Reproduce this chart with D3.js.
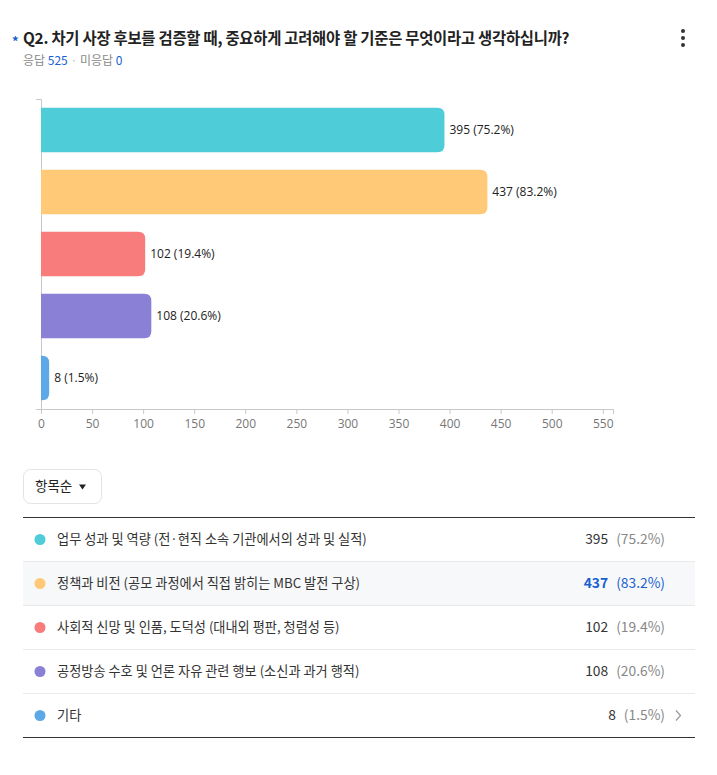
<!DOCTYPE html>
<html><head><meta charset="utf-8">
<script src="https://cdn.jsdelivr.net/npm/d3@7"></script>
<style>
html,body{margin:0;padding:0;background:#fff;}
svg{display:block;}
</style></head>
<body>
<svg id="c" width="717" height="775"></svg>
<script>
const categories = [
  "업무 성과 및 역량 (전·현직 소속 기관에서의 성과 및 실적)",
  "정책과 비전 (공모 과정에서 직접 밝히는 MBC 발전 구상)",
  "사회적 신망 및 인품, 도덕성 (대내외 평판, 청렴성 등)",
  "공정방송 수호 및 언론 자유 관련 행보 (소신과 과거 행적)",
  "기타"
];
const counts = [395, 437, 102, 108, 8];
const percents = ["75.2%", "83.2%", "19.4%", "20.6%", "1.5%"];
const colors = ["#4ECDD9", "#FFC978", "#F87C7C", "#8A80D6", "#5DA8E6"];
const xTicks = [0, 50, 100, 150, 200, 250, 300, 350, 400, 450, 500, 550];
const title = "Q2. 차기 사장 후보를 검증할 때, 중요하게 고려해야 할 기준은 무엇이라고 생각하십니까?";
const responded = 525, notResponded = 0;

const KR = "'Noto Sans CJK KR','Noto Sans',sans-serif";
const CH = "'Open Sans','Noto Sans CJK KR',sans-serif";
const svg = d3.select("#c");

// header
svg.append("text").attr("x", 12).attr("y", 46).attr("fill", "#1a5fd0")
  .attr("font-size", 13).attr("font-family", KR).attr("font-weight", 700).text("*");
svg.append("text").attr("x", 23).attr("y", 44).attr("fill", "#222")
  .attr("font-size", 15.4).attr("font-family", KR).attr("font-weight", 700)
  .attr("letter-spacing", -0.25).text(title);
const sub = svg.append("text").attr("x", 23).attr("y", 65)
  .attr("font-size", 12).attr("font-family", KR).attr("fill", "#8a8a8a");
sub.append("tspan").text("응답 ");
sub.append("tspan").attr("fill", "#1a5fd0").text(responded);
sub.append("tspan").attr("fill", "#c0c0c0").text("  ·  ");
sub.append("tspan").text("미응답 ");
sub.append("tspan").attr("fill", "#1a5fd0").text(notResponded);
[31, 38, 45].forEach(cy => svg.append("circle").attr("cx", 683).attr("cy", cy).attr("r", 2).attr("fill", "#333"));

// chart
const x = d3.scaleLinear().domain([0, 560]).range([41, 613]);
const y = d3.scaleBand().domain(d3.range(categories.length)).range([99, 409])
  .paddingInner(0.28).paddingOuter(0.14);

const xAxis = svg.append("g").attr("transform", "translate(0,409)")
  .call(d3.axisBottom(x).tickValues(xTicks).tickSize(5).tickSizeOuter(5));
xAxis.selectAll("path,line").attr("stroke", "#c8c8c8");
xAxis.selectAll("text").attr("fill", "#777").attr("font-size", 12)
  .attr("font-family", CH).attr("dy", "0.9em");

const yAxis = svg.append("g").attr("transform", "translate(41,0)")
  .call(d3.axisLeft(y).tickValues([]).tickSizeOuter(5));
yAxis.selectAll("path").attr("stroke", "#c8c8c8");

const r = 7;
svg.append("g").selectAll("path").data(counts).join("path")
  .attr("fill", (d, i) => colors[i])
  .attr("d", (d, i) => {
    const x0 = x(0), x1 = x(d), y0 = y(i), h = y.bandwidth();
    const rr = Math.min(r, (x1 - x0), h / 2);
    return `M${x0},${y0}H${x1 - rr}Q${x1},${y0} ${x1},${y0 + rr}V${y0 + h - rr}Q${x1},${y0 + h} ${x1 - rr},${y0 + h}H${x0}Z`;
  });
svg.append("g").selectAll("text").data(counts).join("text")
  .attr("x", d => x(d) + 5).attr("y", (d, i) => y(i) + y.bandwidth() / 2)
  .attr("dy", "0.35em").attr("font-size", 12).attr("font-family", CH).attr("fill", "#222")
  .text((d, i) => `${d} (${percents[i]})`);

// dropdown
svg.append("rect").attr("x", 23.5).attr("y", 469.5).attr("width", 78).attr("height", 34)
  .attr("rx", 7).attr("fill", "#fff").attr("stroke", "#e3e3e3");
svg.append("text").attr("x", 35).attr("y", 491).attr("font-size", 13.5).attr("font-family", KR)
  .attr("fill", "#222").text("항목순");
svg.append("path").attr("d", "M79,484.5h7l-3.5,5z").attr("fill", "#222");

// table
const rowH = 44, tTop = 517.5, L = 23, R = 695;
const rows = svg.append("g");
counts.forEach((c, i) => {
  const ry = tTop + i * rowH;
  const g = rows.append("g");
  if (i === 1) g.append("rect").attr("x", L).attr("y", ry).attr("width", R - L).attr("height", rowH).attr("fill", "#f7f8fa");
  if (i > 0) g.append("line").attr("x1", L).attr("x2", R).attr("y1", ry).attr("y2", ry).attr("stroke", "#e9e9e9");
  const cy = ry + rowH / 2;
  g.append("circle").attr("cx", 40).attr("cy", cy).attr("r", 5.5).attr("fill", colors[i]);
  g.append("text").attr("x", 57).attr("y", cy).attr("dy", "0.35em").attr("font-size", 13.2)
    .attr("font-family", KR).attr("fill", "#333").text(categories[i]);
  const hi = i === 1;
  const t = g.append("text").attr("x", 665).attr("y", cy).attr("dy", "0.35em").attr("text-anchor", "end")
    .attr("font-size", 13.8).attr("font-family", KR);
  t.append("tspan").attr("font-weight", hi ? 700 : 400).attr("fill", hi ? "#1a5fd0" : "#333").text(c);
  t.append("tspan").attr("dx", 8).attr("fill", hi ? "#1a5fd0" : "#888").text(`(${percents[i]})`);
  if (i === counts.length - 1)
    g.append("path").attr("d", `M676,${cy - 5}l4.5,5l-4.5,5`).attr("fill", "none").attr("stroke", "#999").attr("stroke-width", 1.2);
});
svg.append("line").attr("x1", L).attr("x2", R).attr("y1", tTop).attr("y2", tTop).attr("stroke", "#333");
svg.append("line").attr("x1", L).attr("x2", R).attr("y1", tTop + rowH * 5).attr("y2", tTop + rowH * 5).attr("stroke", "#333");
</script>
</body></html>
